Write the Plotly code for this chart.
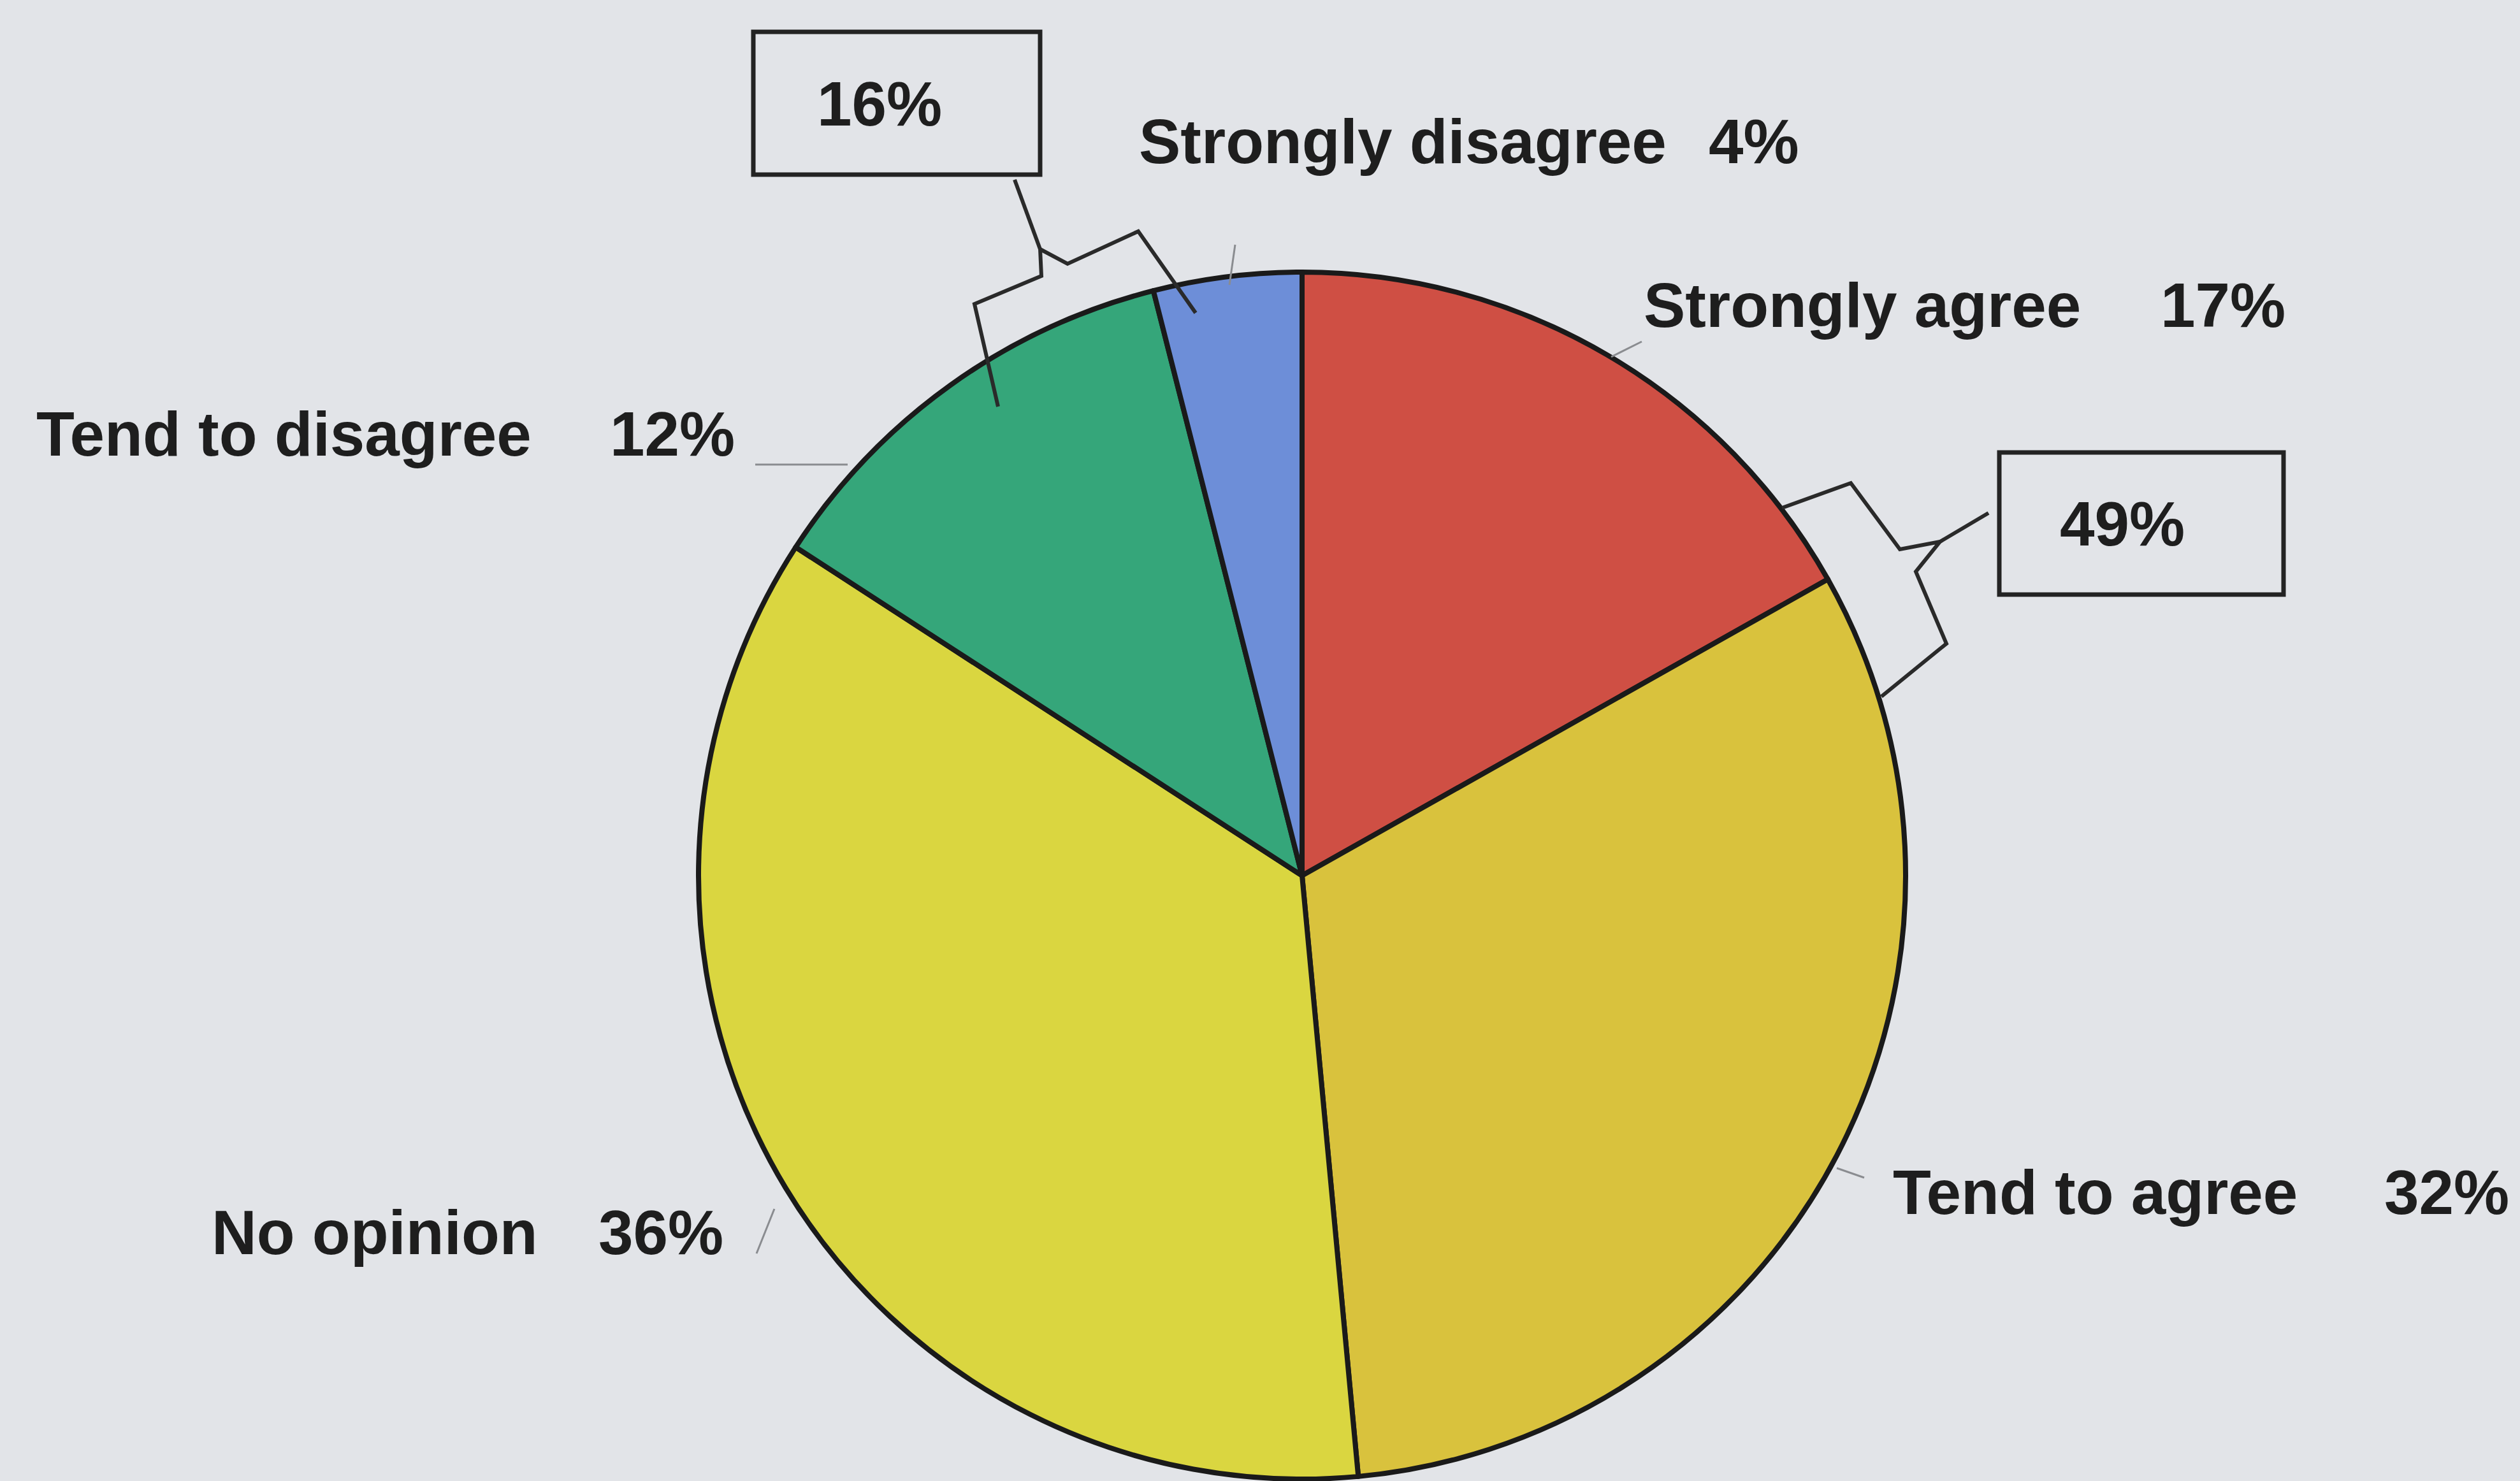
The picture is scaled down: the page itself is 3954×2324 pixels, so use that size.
import math
import plotly.graph_objects as go

W, H = 3954, 2324

# Survey responses (percent)
categories = ["Strongly agree", "Tend to agree", "No opinion", "Tend to disagree", "Strongly disagree"]
values = [17, 32, 36, 12, 4]
value_labels = ["17%", "32%", "36%", "12%", "4%"]
colors = ["#cf4f44", "#d9c23d", "#dad640", "#35a67a", "#6d8ed8"]

# Combined shares shown in the callout boxes
agree_total_label = "49%"
disagree_total_label = "16%"

BG = "#e2e4e8"
INK = "#1e1e1e"
FONT = "Liberation Sans, Arial, sans-serif"
FS = 98


def px(x, y):
    """Pixel position (from top-left) -> paper fractions."""
    return x / W, 1 - y / H


fig = go.Figure()

# Pie geometry in pixels
cx, cy, r = 2043, 1374, 947
x0, y1 = px(cx - r, cy - r)
x1, y0 = px(cx + r, cy + r)

fig.add_trace(go.Pie(
    labels=categories,
    values=values,
    sort=False,
    direction="clockwise",
    rotation=0,
    marker=dict(colors=colors, line=dict(color="#1a1a1a", width=8)),
    textinfo="none",
    hoverinfo="label+percent",
    showlegend=False,
    domain=dict(x=[x0, x1], y=[max(0, y0), min(1, y1)]),
))

annotations = []


def text_at(txt, x, y, xanchor="left", size=FS):
    ax, ay = px(x, y)
    annotations.append(dict(
        text=txt, x=ax, y=ay, xref="paper", yref="paper",
        xanchor=xanchor, yanchor="middle", showarrow=False,
        font=dict(family=FONT, size=size, color=INK, weight="bold"),
    ))


# Category labels and their percentages
label_pos = {
    "Strongly agree": ((2577, 479), (3588, 479)),
    "Tend to agree": ((2968, 1871), (3939, 1871)),
    "No opinion": ((330, 1934), (1137, 1934)),
    "Tend to disagree": ((55, 681), (1155, 681)),
    "Strongly disagree": ((1785, 222), (2825, 222)),
}
for cat, vl in zip(categories, value_labels):
    (lx, ly), (rx, ry) = label_pos[cat]
    text_at(cat, lx, ly, "left")
    text_at(vl, rx, ry, "right")

# Callout box captions
text_at(disagree_total_label, 1380, 163, "center")
text_at(agree_total_label, 3330, 822, "center")

shapes = []


def path_shape(points, color, width):
    d = ""
    for i, (x, y) in enumerate(points):
        X, Y = px(x, y)
        d += ("M" if i == 0 else "L") + f"{X:.6f},{Y:.6f} "
    shapes.append(dict(type="path", path=d.strip(), xref="paper", yref="paper",
                       line=dict(color=color, width=width)))


def rect_shape(xa, ya, xb, yb):
    X0, Y1 = px(xa, ya)
    X1, Y0 = px(xb, yb)
    shapes.append(dict(type="rect", x0=X0, x1=X1, y0=Y0, y1=Y1,
                       xref="paper", yref="paper",
                       line=dict(color="#232323", width=7), fillcolor="rgba(0,0,0,0)"))


# Thin leader lines from labels to the pie
LEAD = "#8a8c90"
path_shape([(1938, 384), (1929, 447)], LEAD, 3)
path_shape([(2576, 536), (2528, 560)], LEAD, 3)
path_shape([(1185, 729), (1330, 729)], LEAD, 3)
path_shape([(2925, 1848), (2882, 1833)], LEAD, 3)
path_shape([(1187, 1967), (1215, 1897)], LEAD, 3)

# Brackets grouping the disagree slices and the agree slices
BR = "#2a2a2a"
path_shape([(1592, 282), (1632, 391)], BR, 6)
path_shape([(1566, 638), (1529, 477), (1634, 433), (1632, 391),
            (1675, 414), (1786, 363), (1876, 491)], BR, 6)
path_shape([(2796, 797), (2904, 758), (2981, 862), (3044, 850),
            (3006, 897), (3054, 1010), (2952, 1093)], BR, 6)
path_shape([(3044, 850), (3120, 805)], BR, 6)

# Callout boxes
rect_shape(1182, 50, 1632, 274)
rect_shape(3137, 710, 3583, 933)

fig.update_layout(
    width=W, height=H,
    margin=dict(l=0, r=0, t=0, b=0),
    paper_bgcolor=BG,
    plot_bgcolor=BG,
    annotations=annotations,
    shapes=shapes,
)

fig.write_html("out.html")
